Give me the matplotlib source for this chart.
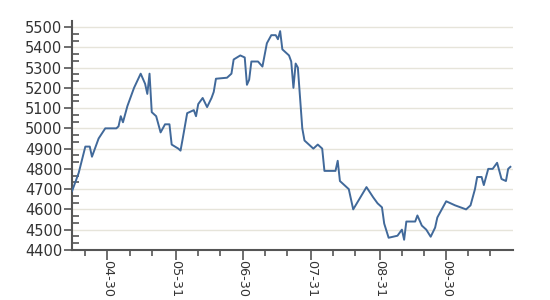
import numpy as np
import pandas as pd
import matplotlib
matplotlib.use("Agg")
from matplotlib import pyplot as plt
import matplotlib.dates as mdates
from matplotlib.ticker import AutoMinorLocator

year = 2009

dates = [
    "04-14", "04-17", "04-20", "04-22", "04-23", "04-26", "04-29",
    "05-04", "05-05", "05-06", "05-07", "05-09", "05-12", "05-15",
    "05-17", "05-18", "05-19", "05-20", "05-22", "05-24", "05-26",
    "05-28", "05-29", "06-01", "06-02", "06-03", "06-05", "06-08",
    "06-09", "06-10", "06-12", "06-14", "06-16", "06-17", "06-18",
    "06-23", "06-25", "06-26", "06-29", "07-01", "07-02", "07-03",
    "07-04", "07-07", "07-09", "07-11", "07-13", "07-15", "07-16",
    "07-17", "07-18", "07-21", "07-22", "07-23", "07-24", "07-25",
    "07-26", "07-27", "07-28", "07-31", "08-01", "08-03", "08-05",
    "08-06", "08-11", "08-12", "08-13", "08-14", "08-17", "08-19",
    "08-25", "08-28", "08-30", "09-01", "09-02", "09-04", "09-08",
    "09-10", "09-11", "09-12", "09-16", "09-17", "09-19", "09-21",
    "09-23", "09-25", "09-26", "09-28", "09-30", "10-04", "10-09",
    "10-11", "10-13", "10-14", "10-16", "10-17", "10-19", "10-21",
    "10-23", "10-24", "10-25", "10-27", "10-28", "10-29",
]
values = [
    4690, 4780, 4910, 4910, 4860, 4950, 5000,
    5000, 5010, 5060, 5030, 5110, 5200, 5270,
    5220, 5170, 5270, 5080, 5060, 4980, 5020,
    5020, 4920, 4900, 4890, 4950, 5075, 5090,
    5060, 5120, 5150, 5105, 5150, 5180, 5245,
    5250, 5270, 5340, 5360, 5350, 5215, 5240,
    5330, 5330, 5305, 5420, 5460, 5460, 5440,
    5480, 5390, 5360, 5330, 5200, 5320, 5300,
    5150, 5000, 4940, 4910, 4900, 4920, 4900,
    4790, 4790, 4840, 4740, 4730, 4700, 4600,
    4710, 4660, 4630, 4610, 4530, 4460, 4470,
    4500, 4450, 4540, 4540, 4570, 4520, 4500,
    4465, 4510, 4560, 4600, 4640, 4620, 4600,
    4620, 4700, 4760, 4760, 4720, 4800, 4800,
    4830, 4790, 4750, 4740, 4800, 4810,
]
tick_labels = ["04-30", "05-31", "06-30", "07-31", "08-31", "09-30"]
y_ticks = [4400, 4500, 4600, 4700, 4800, 4900, 5000, 5100, 5200, 5300, 5400, 5500]

x = pd.to_datetime([f"{year}-{d}" for d in dates])
major = pd.to_datetime([f"{year}-{d}" for d in tick_labels])

fig = plt.figure(figsize=(5.5, 3.0), dpi=100)
ax = fig.add_axes([0.131, 0.167, 0.802, 0.763])

ax.plot(x, values, color="#41699a", lw=1.4, zorder=3)

ax.set_xlim(pd.Timestamp(f"{year}-04-14"), pd.Timestamp(f"{year}-10-30 06:00"))
ax.set_ylim(4400, 5530)

ax.set_yticks(y_ticks)
ax.yaxis.set_minor_locator(AutoMinorLocator(3))
ax.set_xticks(major)
ax.set_xticklabels(tick_labels, rotation=-90)
ax.xaxis.set_minor_locator(mdates.DayLocator(bymonthday=[10, 20]))

ax.grid(axis="y", which="major", color="#e6e4da", lw=1.0, zorder=0)

for s in ["top", "right"]:
    ax.spines[s].set_visible(False)
for s in ["left", "bottom"]:
    ax.spines[s].set_color("#555555")
    ax.spines[s].set_linewidth(1.5)

ax.tick_params(axis="y", which="major", direction="out", length=6, width=1.2,
               color="#555555", labelsize=10.5, labelcolor="#333333", pad=1)
ax.tick_params(axis="y", which="minor", direction="in", length=5, width=1.2,
               color="#555555")
ax.tick_params(axis="x", which="major", direction="out", length=7, width=1.2,
               color="#555555", labelsize=9.2, labelcolor="#333333", pad=0.5)
ax.tick_params(axis="x", which="minor", direction="out", length=4, width=1.2,
               color="#555555")

fig.savefig("out.png", dpi=100)
